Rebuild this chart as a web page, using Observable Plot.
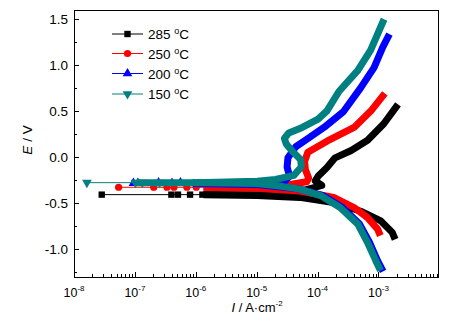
<!DOCTYPE html>
<html><head><meta charset="utf-8">
<script src="https://cdn.jsdelivr.net/npm/d3@7"></script>
<script src="https://cdn.jsdelivr.net/npm/@observablehq/plot@0.6"></script>
<style>
body{margin:0;background:#fff}
svg{font-family:"Liberation Sans",Arial,sans-serif}
</style>
</head><body><div id="chart"></div>
<script>
// ---- data (current density in A/cm2, potential in V) ----
const labels = ["285", "250", "200", "150"];
const colors = ["#000000", "#ff0000", "#0000ff", "#008080"];

// 285 °C
const I285a = [2.8e-8, 1.5e-6, 1e-5, 4e-5, 8e-5, 1.15e-4, 9e-5, 1.0e-4, 1.4e-4, 1.9e-4, 3.5e-4, 6.5e-4, 1.2e-3, 1.9e-3];
const E285a = [-0.40, -0.40, -0.40, -0.38, -0.33, -0.30, -0.25, -0.20, -0.105, 0.0, 0.08, 0.19, 0.37, 0.55];
const I285c = [1.5e-6, 1e-5, 5e-5, 1.8e-4, 5e-4, 1.07e-3, 1.65e-3, 1.75e-3];
const E285c = [-0.40, -0.41, -0.43, -0.485, -0.58, -0.685, -0.81, -0.85];
const I285m = [2.8e-8, 3.9e-7, 5e-7, 7.9e-7, 1.26e-6];
const E285m = [-0.40, -0.40, -0.40, -0.40, -0.40];

// 250 °C
const I250a = [5.3e-8, 1.5e-6, 1e-5, 3.5e-5, 6.5e-5, 7e-5, 6.2e-5, 6e-5, 6.8e-5, 1.4e-4, 3.9e-4, 7.4e-4, 1.15e-3];
const E250a = [-0.32, -0.32, -0.315, -0.29, -0.26, -0.22, -0.13, -0.04, 0.06, 0.18, 0.33, 0.51, 0.67];
const I250c = [1.5e-6, 1e-5, 5e-5, 1.8e-4, 3.9e-4, 6.5e-4, 9.5e-4, 1e-3];
const E250c = [-0.32, -0.33, -0.36, -0.43, -0.54, -0.65, -0.775, -0.81];
const I250m = [5.3e-8, 2e-7, 3.3e-7, 4.3e-7, 7e-7, 1e-6];
const E250m = [-0.32, -0.32, -0.32, -0.32, -0.32, -0.32];

// 200 °C
const I200a = [9.3e-8, 1e-6, 1e-5, 2.8e-5, 3.4e-5, 3.1e-5, 3.2e-5, 4.3e-5, 6.5e-5, 1.25e-4, 2.6e-4, 5e-4, 8.3e-4, 1.15e-3, 1.4e-3];
const E200a = [-0.28, -0.28, -0.275, -0.26, -0.20, -0.10, 0.0, 0.12, 0.20, 0.33, 0.50, 0.76, 0.98, 1.20, 1.31];
const I200c = [1e-6, 1e-5, 5e-5, 1.2e-4, 2.5e-4, 4.8e-4, 7e-4, 9.5e-4, 1.1e-3];
const E200c = [-0.28, -0.29, -0.34, -0.41, -0.54, -0.72, -0.92, -1.12, -1.20];
const I200m = [9.3e-8, 1.1e-7, 2.4e-7, 4e-7, 5.5e-7];
const E200m = [-0.275, -0.275, -0.27, -0.275, -0.27];

// 150 °C
const I150a = [1.6e-8, 1.2e-7, 1e-6, 1e-5, 2e-5, 4e-5, 5.3e-5, 5.2e-5, 3.8e-5, 3e-5, 2.8e-5, 3.3e-5, 5.5e-5, 1e-4, 1.4e-4, 2.2e-4, 4.5e-4, 7.3e-4, 1.15e-3];
const E150a = [-0.27, -0.27, -0.27, -0.255, -0.235, -0.19, -0.10, -0.02, 0.07, 0.15, 0.21, 0.27, 0.33, 0.42, 0.51, 0.72, 0.95, 1.17, 1.47];
const I150c = [1e-6, 1e-5, 2.5e-5, 5e-5, 1.1e-4, 2.3e-4, 4.5e-4, 6.5e-4, 8.9e-4, 1e-3];
const E150c = [-0.27, -0.28, -0.31, -0.34, -0.41, -0.54, -0.72, -0.92, -1.12, -1.19];
const I150m = [1.6e-8, 1e-7, 1.3e-7, 2.5e-7];
const E150m = [-0.27, -0.27, -0.27, -0.27];

const denseFrom = [1.5e-6, 1.5e-6, 1e-6, 1.2e-7];
const symbols = ["square", "circle", "triangle", "triangle"];
const rotations = [0, 0, 0, 180];

const xTicks = [1e-8, 1e-7, 1e-6, 1e-5, 1e-4, 1e-3];
const xTickExp = ["-8", "-7", "-6", "-5", "-4", "-3"];
const yTicks = [-1.0, -0.5, 0.0, 0.5, 1.0, 1.5];
const yTickLabels = ["-1.0", "-0.5", "0.0", "0.5", "1.0", "1.5"];

// ---- build tables ----
const zip = (I, E) => I.map((v, i) => ({I: v, E: E[i]}));
const anodic = [zip(I285a, E285a), zip(I250a, E250a), zip(I200a, E200a), zip(I150a, E150a)];
const cathodic = [zip(I285c, E285c), zip(I250c, E250c), zip(I200c, E200c), zip(I150c, E150c)];
const markers = [zip(I285m, E285m), zip(I250m, E250m), zip(I200m, E200m), zip(I150m, E150m)];

const marks = [];
for (let k = 0; k < 4; k++) {
  const c = colors[k];
  marks.push(Plot.line(anodic[k], {x: "I", y: "E", stroke: c, strokeWidth: 1}));
  marks.push(Plot.line(anodic[k].filter(d => d.I >= denseFrom[k]), {x: "I", y: "E", stroke: c, strokeWidth: 7, strokeLinejoin: "round", strokeLinecap: "square"}));
  marks.push(Plot.line(cathodic[k], {x: "I", y: "E", stroke: c, strokeWidth: 7, strokeLinejoin: "round", strokeLinecap: "square"}));
  marks.push(Plot.dot(markers[k], {x: "I", y: "E", symbol: () => symbols[k], r: 3.6, fill: c, stroke: "none", rotate: rotations[k]}));
}
marks.push(Plot.frame({stroke: "#000", strokeWidth: 1}));

const plot = Plot.plot({
  width: 454, height: 329,
  marginLeft: 74, marginRight: 16, marginTop: 10, marginBottom: 52,
  x: {type: "log", domain: [1e-8, 9.5e-3], axis: null},
  y: {domain: [-1.3, 1.6], axis: null},
  symbol: {type: "identity"},
  marks
});
document.getElementById("chart").appendChild(plot);

// ---- axes (inward ticks, superscript labels) ----
const svg = d3.select(plot);
const xs = plot.scale("x"), ys = plot.scale("y");
const yb = ys.apply(-1.3), xl = xs.apply(1e-8);
const tg = svg.append("g").attr("stroke", "#000").attr("stroke-width", 1);
for (let e = -8; e <= -3; e++) {
  for (let m = 1; m <= 9; m++) {
    const v = m * Math.pow(10, e);
    if (v > 9.5e-3) continue;
    const px = Math.round(xs.apply(v)) + 0.5;
    tg.append("line").attr("x1", px).attr("x2", px).attr("y1", yb).attr("y2", yb - (m === 1 ? 5 : 3));
  }
}
for (let v = -1.25; v <= 1.6; v += 0.25) {
  const py = Math.round(ys.apply(v)) + 0.5;
  const major = Math.abs(v * 2 - Math.round(v * 2)) < 1e-6;
  tg.append("line").attr("x1", xl).attr("x2", xl + (major ? 5 : 3)).attr("y1", py).attr("y2", py);
}
const lg = svg.append("g").attr("fill", "#000").attr("font-size", 12.5).attr("text-anchor", "start");
xTicks.forEach((v, i) => {
  const t = lg.append("text").attr("x", xs.apply(v)).attr("y", 297).attr("text-anchor", "middle");
  t.append("tspan").text("10");
  t.append("tspan").attr("font-size", 8).attr("dy", -6).text(xTickExp[i]);
});
yTicks.forEach((v, i) => {
  lg.append("text").attr("x", 68).attr("y", ys.apply(v) + 4.7).attr("text-anchor", "end").attr("font-size", 13.5).text(yTickLabels[i]);
});
// axis titles
const xt = lg.append("text").attr("x", 257).attr("y", 312).attr("text-anchor", "middle").attr("font-size", 13);
xt.append("tspan").attr("font-style", "italic").text("I");
xt.append("tspan").text(" / A\u00b7cm");
xt.append("tspan").attr("font-size", 8).attr("dy", -6).text("-2");
const yt = lg.append("text").attr("transform", "translate(31.5,140) rotate(-90)").attr("text-anchor", "middle").attr("font-size", 13.5);
yt.append("tspan").attr("font-style", "italic").text("E");
yt.append("tspan").text(" / V");

// ---- legend ----
const legY = [34, 53.5, 73.5, 94];
const symTypes = [d3.symbolSquare, d3.symbolCircle, d3.symbolTriangle, d3.symbolTriangle];
const leg = svg.append("g").attr("text-anchor", "start");
labels.forEach((l, k) => {
  const y0 = legY[k];
  leg.append("line").attr("x1", 112).attr("x2", 143).attr("y1", y0).attr("y2", y0).attr("stroke", colors[k]).attr("stroke-width", 1);
  leg.append("path").attr("d", d3.symbol().type(symTypes[k]).size(3.6 * 3.6 * Math.PI)())
    .attr("transform", `translate(127.5,${y0}) rotate(${rotations[k]})`).attr("fill", colors[k]);
  const t = leg.append("text").attr("x", 148).attr("y", y0 + 5).attr("font-size", 13.5).attr("fill", "#000").attr("text-anchor", "start");
  t.append("tspan").text(l + " ");
  t.append("tspan").attr("font-size", 9).attr("dy", -5).text("o");
  t.append("tspan").attr("dy", 5).text("C");
});
</script>
</body></html>
